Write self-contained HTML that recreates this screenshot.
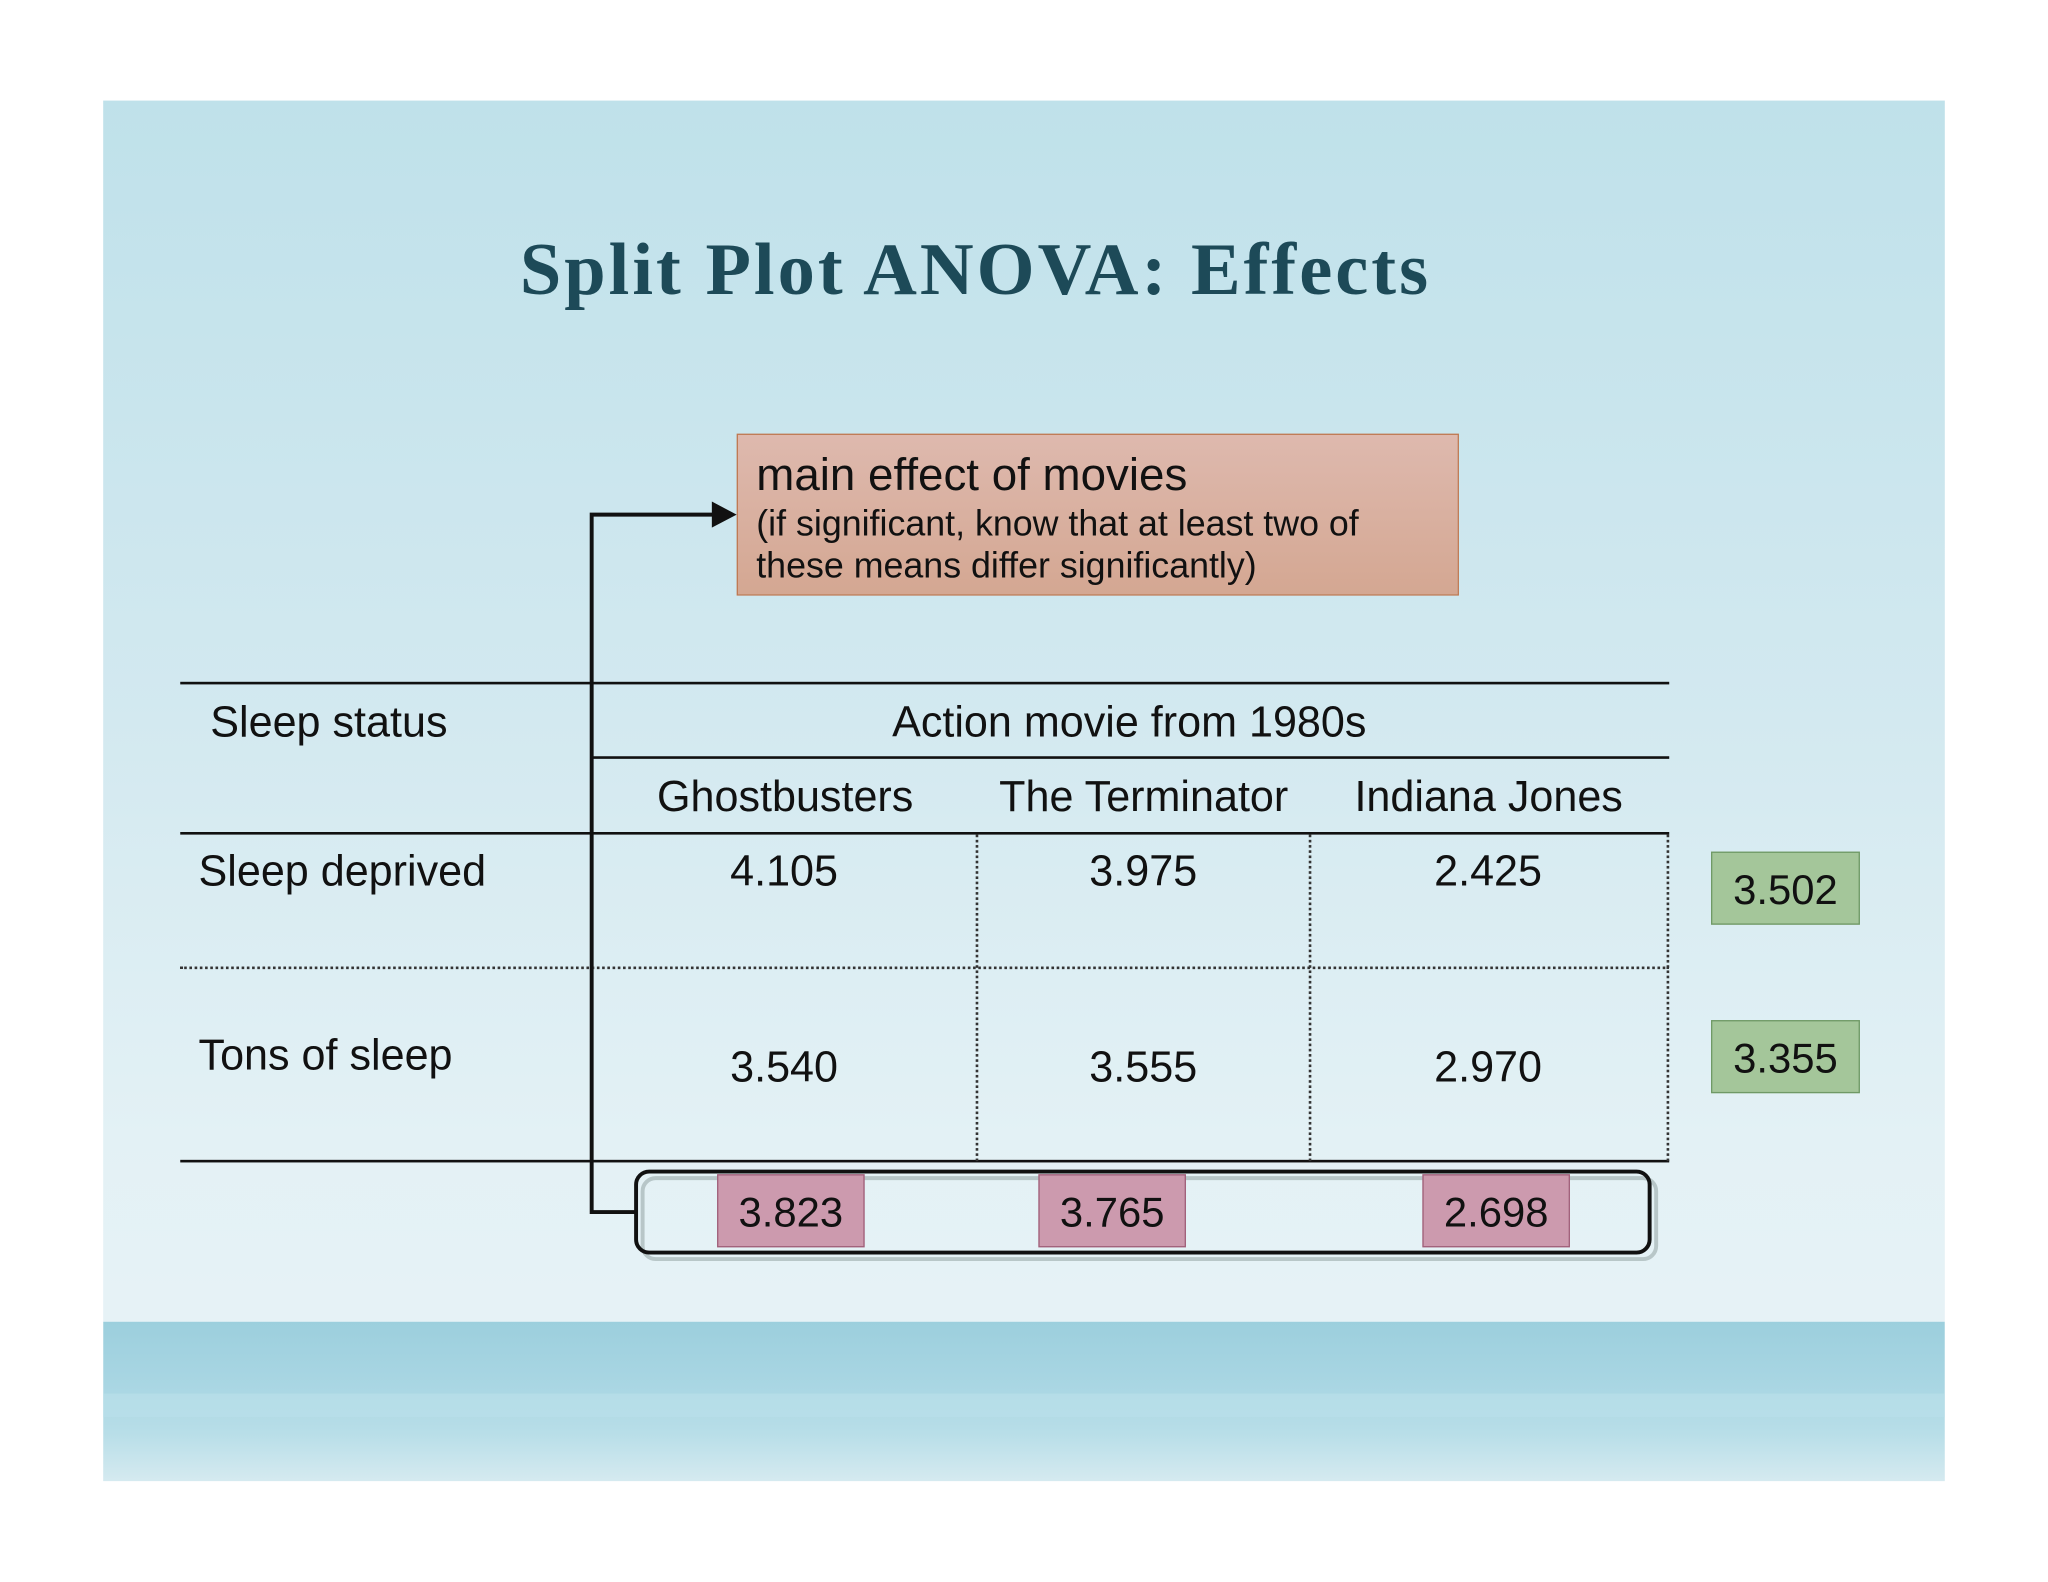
<!DOCTYPE html>
<html><head><meta charset="utf-8"><style>
html,body{margin:0;padding:0;background:#fff;width:2048px;height:1582px;overflow:hidden}
#w{position:absolute;left:0;top:0;width:1568px;height:1211px;transform:scale(1.30612);transform-origin:0 0;font-family:"Liberation Sans",sans-serif;color:#111}
#slide{position:absolute;left:79px;top:77px;width:1410px;height:1057px;background:linear-gradient(#bfe1ea 0%,#d3e9f0 45%,#e3f1f5 75%,#e6f2f6 88%);overflow:hidden}
.a{position:absolute}
.t{position:absolute;font-size:33px;white-space:nowrap}
.hl{position:absolute;height:2px;background:#111}
.dl{position:absolute;border-top:2px dotted #333}
.vl{position:absolute;border-left:2px dotted #333}
.pk{position:absolute;width:111px;height:54px;background:#cc9aae;border:1px solid #a0607a;font-size:32px;text-align:center;line-height:56px}
.gr{position:absolute;width:112px;height:54px;background:#a4c69a;border:1px solid #6f9966;font-size:32px;text-align:center;line-height:56px}
</style></head><body>
<div id="w">
<div id="slide">
 <div class="a" style="left:0;top:935px;width:1410px;height:122px;background:linear-gradient(#9ccfdd,#a9d6e3 40%,#b8dee8 70%,#d5eaf0)"></div>
 <div class="a" style="left:0;top:990px;width:1410px;height:18px;background:#b9dfe9;opacity:.7"></div>
</div>
<div class="t" style="left:398px;top:174px;font-family:'Liberation Serif',serif;font-weight:bold;font-size:57px;letter-spacing:2.3px;color:#1d4a58">Split Plot ANOVA: Effects</div>
<div class="a" style="left:564px;top:332px;width:551px;height:122px;background:linear-gradient(#deb9ae,#d4a792);border:1px solid #c0764e">
 <div class="t" style="left:14px;top:11px;font-size:35px">main effect of movies</div>
 <div class="t" style="left:14px;top:52px;font-size:27.4px;line-height:32px">(if significant, know that at least two of<br>these means differ significantly)</div>
</div>
<svg class="a" style="left:0;top:0" width="1568" height="1211">
 <path d="M488 928 H453 V394 H548" fill="none" stroke="#111" stroke-width="3"/>
 <polygon points="564,394 545,384 545,404" fill="#111"/>
 <rect x="492" y="902" width="776" height="62" rx="10" fill="none" stroke="#9aa" stroke-width="3" opacity=".6"/>
 <rect x="487" y="897" width="776" height="62" rx="10" fill="none" stroke="#111" stroke-width="3"/>
</svg>
<div class="hl" style="left:138px;top:522px;width:1140px"></div>
<div class="hl" style="left:453px;top:579px;width:825px"></div>
<div class="hl" style="left:138px;top:637px;width:1140px"></div>
<div class="hl" style="left:138px;top:888px;width:1140px"></div>
<div class="dl" style="left:138px;top:740px;width:1140px"></div>
<div class="a" style="left:452px;top:522px;width:2px;height:366px;background:#111"></div>
<div class="vl" style="left:747px;top:639px;height:250px"></div>
<div class="vl" style="left:1002px;top:639px;height:250px"></div>
<div class="vl" style="left:1276px;top:639px;height:250px"></div>
<div class="t" style="left:161px;top:534px">Sleep status</div>
<div class="t" style="left:683px;top:534px">Action movie from 1980s</div>
<div class="t" style="left:503px;top:591px">Ghostbusters</div>
<div class="t" style="left:765px;top:591px">The Terminator</div>
<div class="t" style="left:1037px;top:591px">Indiana Jones</div>
<div class="t" style="left:152px;top:648px">Sleep deprived</div>
<div class="t" style="left:152px;top:789px">Tons of sleep</div>
<div class="t" style="left:559px;top:648px">4.105</div>
<div class="t" style="left:834px;top:648px">3.975</div>
<div class="t" style="left:1098px;top:648px">2.425</div>
<div class="t" style="left:559px;top:798px">3.540</div>
<div class="t" style="left:834px;top:798px">3.555</div>
<div class="t" style="left:1098px;top:798px">2.970</div>
<div class="gr" style="left:1310px;top:652px">3.502</div>
<div class="gr" style="left:1310px;top:781px">3.355</div>
<div class="pk" style="left:549px;top:899px">3.823</div>
<div class="pk" style="left:795px;top:899px">3.765</div>
<div class="pk" style="left:1089px;top:899px">2.698</div>
</div>
</body></html>
